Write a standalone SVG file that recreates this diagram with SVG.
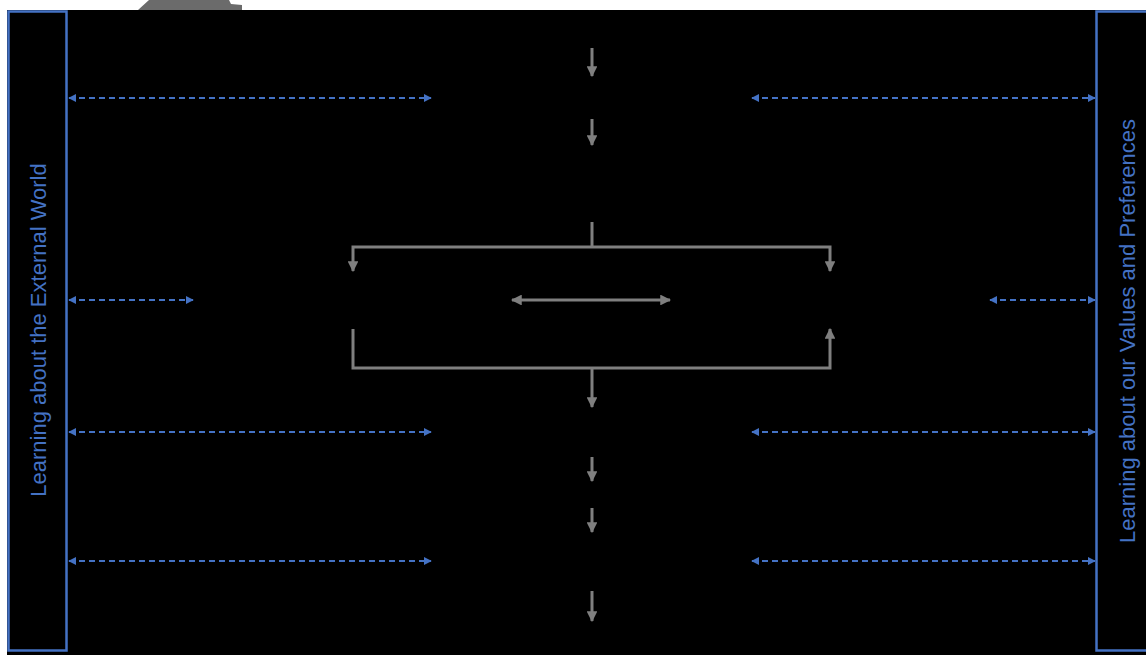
<svg xmlns="http://www.w3.org/2000/svg" width="1146" height="655" viewBox="0 0 1146 655">
<style>
.panel{fill:#000;stroke:#4472c4;stroke-width:2.5}
.ptxt{font-family:"Liberation Sans",Arial,sans-serif;font-size:22px;fill:#4472c4;text-anchor:middle;dominant-baseline:central}
.dash{stroke:#4472c4;stroke-width:2;stroke-dasharray:6 4;fill:none;marker-start:url(#bs);marker-end:url(#be)}
.g{stroke:#7f7f7f;stroke-width:3;fill:none}
.ga{stroke:#7f7f7f;stroke-width:3;fill:none;marker-end:url(#ge)}
.gb{stroke:#7f7f7f;stroke-width:3;fill:none;marker-start:url(#gs);marker-end:url(#ge)}
</style>
<defs>
<marker id="be" viewBox="0 0 10 10" refX="9" refY="5" markerWidth="4" markerHeight="4" orient="auto" markerUnits="strokeWidth"><path d="M0,0 L10,5 L0,10 z" fill="#4472c4"/></marker>
<marker id="bs" viewBox="0 0 10 10" refX="1" refY="5" markerWidth="4" markerHeight="4" orient="auto" markerUnits="strokeWidth"><path d="M10,0 L0,5 L10,10 z" fill="#4472c4"/></marker>
<marker id="ge" viewBox="0 0 10 10" refX="9" refY="5" markerWidth="3.6" markerHeight="3.6" orient="auto" markerUnits="strokeWidth"><path d="M0,0 L10,5 L0,10 z" fill="#7f7f7f"/></marker>
<marker id="gs" viewBox="0 0 10 10" refX="1" refY="5" markerWidth="3.6" markerHeight="3.6" orient="auto" markerUnits="strokeWidth"><path d="M10,0 L0,5 L10,10 z" fill="#7f7f7f"/></marker>
</defs>
<rect x="0" y="0" width="1146" height="655" fill="#fff"/>
<path d="M138,10 L149,0 L229,0 L231,4 L242,5 L242,10 z" fill="#6b6b6b"/>
<rect x="7" y="10" width="1139" height="645" fill="#000"/>
<g id="node-external">
<rect class="panel" x="8.5" y="11.5" width="58" height="639"/>
<text class="ptxt" transform="translate(38,330) rotate(-90)">Learning about the External World</text>
</g>
<g id="node-values">
<rect class="panel" x="1096.5" y="11.5" width="60" height="639"/>
<text class="ptxt" transform="translate(1127,331) rotate(-90)">Learning about our Values and Preferences</text>
</g>
<g id="connectors">
<line class="dash" x1="69" y1="98" x2="431" y2="98"/>
<line class="dash" x1="752" y1="98" x2="1095" y2="98"/>
<line class="dash" x1="69" y1="300" x2="193" y2="300"/>
<line class="dash" x1="990" y1="300" x2="1095" y2="300"/>
<line class="dash" x1="69" y1="432" x2="431" y2="432"/>
<line class="dash" x1="752" y1="432" x2="1095" y2="432"/>
<line class="dash" x1="69" y1="561" x2="431" y2="561"/>
<line class="dash" x1="752" y1="561" x2="1095" y2="561"/>
<line class="ga" x1="592" y1="48" x2="592" y2="76"/>
<line class="ga" x1="592" y1="119" x2="592" y2="145"/>
<line class="g" x1="592" y1="222" x2="592" y2="247"/>
<path class="ga" d="M592,247 H353 V271"/>
<path class="ga" d="M592,247 H830 V271"/>
<line class="gb" x1="512" y1="300" x2="670" y2="300"/>
<path class="g" d="M353,329 V368 H592"/>
<path class="ga" d="M592,368 H830 V329"/>
<line class="ga" x1="592" y1="368" x2="592" y2="407"/>
<line class="ga" x1="592" y1="457" x2="592" y2="481"/>
<line class="ga" x1="592" y1="508" x2="592" y2="532"/>
<line class="ga" x1="592" y1="591" x2="592" y2="621"/>
</g>
</svg>
